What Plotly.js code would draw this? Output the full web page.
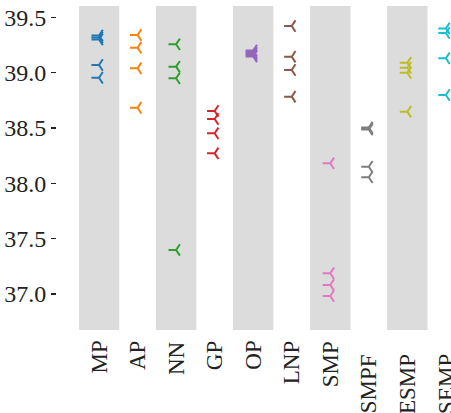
<!DOCTYPE html>
<html>
<head>
<meta charset="utf-8">
<script src="https://cdn.plot.ly/plotly-3.0.1.min.js"></script>
<style>html,body{margin:0;padding:0;background:#fff;}#chart{width:451px;height:413px;}</style>
</head>
<body>
<div id="chart"></div>
<script>
var categories = ["MP", "AP", "NN", "GP", "OP", "LNP", "SMP", "SMPF", "SESMP", "SEMP"];
var colors = ["#1f77b4", "#ff7f0e", "#2ca02c", "#d62728", "#9467bd", "#8c564b", "#e377c2", "#7f7f7f", "#bcbd22", "#17becf"];

var mpValues = [39.336, 39.318, 39.300, 39.069, 38.954];
var apValues = [39.340, 39.225, 39.039, 38.683];
var nnValues = [39.256, 39.054, 38.949, 37.398];
var gpValues = [38.654, 38.581, 38.452, 38.271];
var opValues = [39.200, 39.186, 39.173, 39.159, 39.146];
var lnpValues = [39.421, 39.144, 39.024, 38.783];
var smpValues = [38.181, 37.187, 37.082, 36.982];
var smpfValues = [38.504, 38.495, 38.486, 38.150, 38.055];
var sesmpValues = [39.089, 39.044, 38.999, 38.647];
var sempValues = [39.399, 39.358, 39.130, 38.798];

var yTickVals = [37.0, 37.5, 38.0, 38.5, 39.0, 39.5];

var seriesValues = [mpValues, apValues, nnValues, gpValues, opValues, lnpValues, smpValues, smpfValues, sesmpValues, sempValues];

var traces = categories.map(function (cat, i) {
  var vals = seriesValues[i];
  return {
    type: "scatter",
    mode: "markers",
    x: vals.map(function () { return cat; }),
    y: vals,
    cliponaxis: false,
    marker: {
      symbol: "y-left",
      size: 9.5,
      color: colors[i],
      line: { color: colors[i], width: 2 }
    },
    hoverinfo: "skip",
    showlegend: false
  };
});

var xFont = { family: "Liberation Serif, DejaVu Serif, serif", size: 23, color: "#222" };
var yFont = { family: "Liberation Serif, DejaVu Serif, serif", size: 24, color: "#222" };

var shapes = [];
var annotations = [];
categories.forEach(function (cat, i) {
  if (i % 2 === 0) {
    shapes.push({
      type: "rect", xref: "x", yref: "paper", layer: "below",
      x0: i - 0.525, x1: i + 0.525, y0: 0, y1: 1,
      fillcolor: "#dcdcdc", line: { width: 0 }
    });
  }
  annotations.push({
    xref: "x", yref: "paper", x: cat, y: 0,
    text: cat, showarrow: false, textangle: -90,
    xanchor: "center", yanchor: "top",
    yshift: i >= 7 ? -22 : -9,
    font: xFont
  });
});

var layout = {
  width: 451, height: 413,
  margin: { l: 56, r: 0, t: 6, b: 83, pad: 0 },
  paper_bgcolor: "#ffffff",
  plot_bgcolor: "rgba(0,0,0,0)",
  showlegend: false,
  shapes: shapes,
  annotations: annotations,
  xaxis: {
    type: "category",
    categoryorder: "array",
    categoryarray: categories,
    domain: [0.0582, 1],
    range: [-0.52, 9.133],
    showgrid: false, zeroline: false, showline: false,
    ticks: "",
    showticklabels: false
  },
  yaxis: {
    anchor: "free", position: 0,
    range: [36.675, 39.602],
    tickvals: yTickVals,
    tickformat: ".1f",
    showgrid: false, zeroline: false, showline: false,
    ticks: "outside", ticklen: 5, tickwidth: 1.5, tickcolor: "#222",
    tickfont: yFont
  }
};

Plotly.newPlot("chart", traces, layout, { staticPlot: true, displayModeBar: false });
</script>
</body>
</html>
